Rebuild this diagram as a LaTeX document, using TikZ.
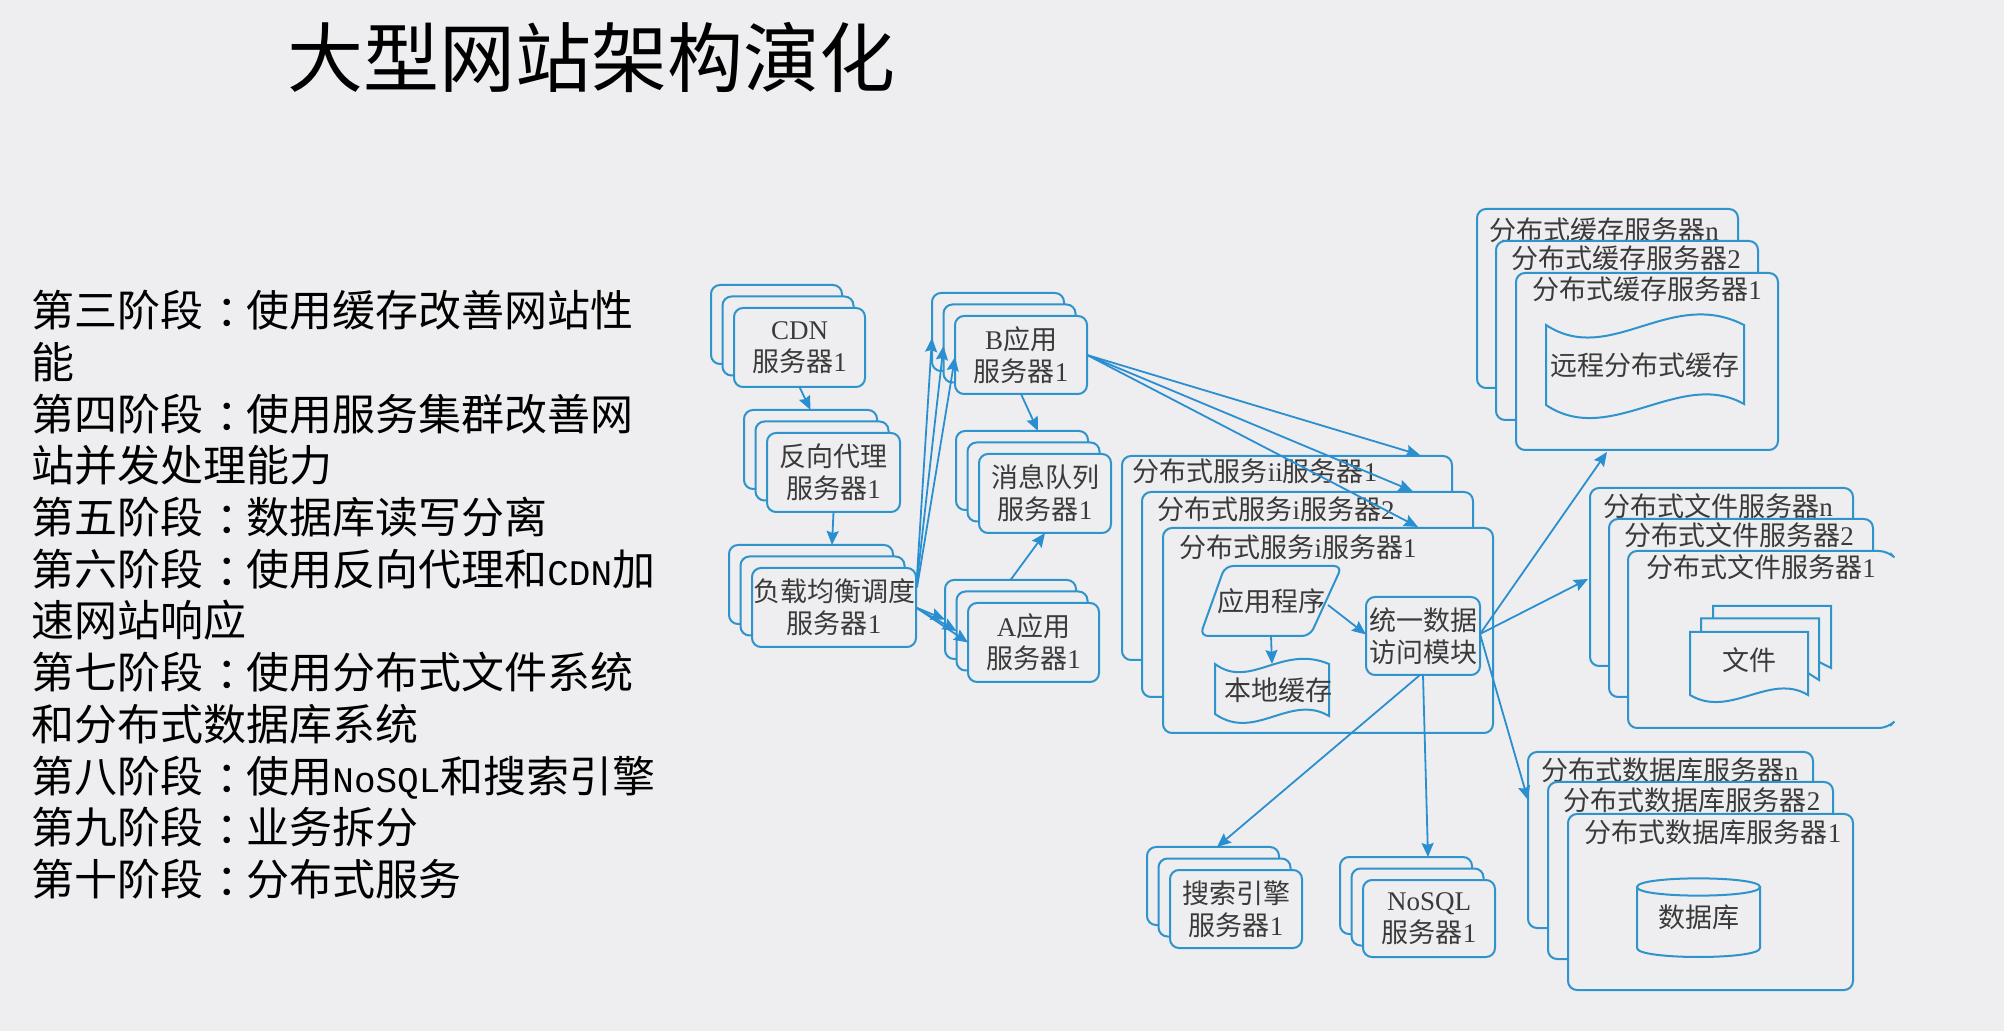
\documentclass[tikz,border=0pt]{standalone}
\usepackage{fontspec}
\setmainfont{Noto Sans CJK SC}
\newfontfamily\serifen{Liberation Serif}
\newfontfamily\monoen{Liberation Mono}
\newcommand{\en}[1]{{\serifen #1}}
\newcommand{\mn}[1]{{\monoen\fontsize{18pt}{18pt}\selectfont #1}}
\newcommand{\cln}{\kern0.3em\char"FF1A\relax\kern-0.3em\relax}
\usetikzlibrary{arrows.meta}
\definecolor{bgc}{HTML}{EEEEF0}
\definecolor{linec}{HTML}{2F93CC}
\definecolor{arrowc}{HTML}{2A8FD0}
\definecolor{txt}{HTML}{3A3A3A}
\tikzset{
  box/.style={draw=linec,line width=1pt,fill=bgc,rounded corners=4.5pt,inner sep=0pt,outer sep=0pt,
    align=center,text=txt,font=\fontsize{13.5pt}{16pt}\selectfont},
  plain/.style={inner sep=0pt,outer sep=0pt,align=center,text=txt,font=\fontsize{13.5pt}{16pt}\selectfont},
  shapeline/.style={draw=linec,line width=1pt,fill=bgc},
  arr/.style={draw=arrowc,line width=0.9pt,-{Stealth[length=7pt,width=6pt,inset=1pt]}},
}
% name, x1, y1, x2, y2, text
\newcommand{\bx}[6]{%
  \pgfmathsetmacro\cxx{(#2+#4)/2}\pgfmathsetmacro\cyy{(#3+#5)/2}%
  \node[box,minimum width={(#4-#2)*0.5pt},minimum height={(#5-#3)*0.5pt}] (#1) at (\cxx,\cyy) {#6};}
\newcommand{\tbx}[6]{%
  \pgfmathsetmacro\cxx{(#2+#4)/2}\pgfmathsetmacro\cyy{(#3+#5)/2}%
  \node[plain,minimum width={(#4-#2)*0.5pt},minimum height={(#5-#3)*0.5pt}] (#1) at (\cxx,\cyy) {#6};}
% stack of three: name, x1, y1, x2, y2, text
\newcommand{\stk}[6]{%
  \pgfmathsetmacro\xa{#2-23}\pgfmathsetmacro\ya{#3-23}\pgfmathsetmacro\xb{#4-23}\pgfmathsetmacro\yb{#5-23}%
  \bx{#1-b}{\xa}{\ya}{\xb}{\yb}{}%
  \pgfmathsetmacro\xa{#2-11.5}\pgfmathsetmacro\ya{#3-11.5}\pgfmathsetmacro\xb{#4-11.5}\pgfmathsetmacro\yb{#5-11.5}%
  \bx{#1-a}{\xa}{\ya}{\xb}{\yb}{}%
  \bx{#1}{#2}{#3}{#4}{#5}{#6}}
\begin{document}
\begin{tikzpicture}[x=0.5pt,y=-0.5pt]
\useasboundingbox (0,0) rectangle (2004,1031);
\fill[bgc] (0,0) rectangle (2004,1031);

\node[inner sep=0pt,font=\fontsize{38pt}{38pt}\selectfont,text=black] (title) at (591,57) {大型网站架构演化};

\node[inner sep=0pt,anchor=north west,align=left,text=black,font=\fontsize{21.5pt}{25.85pt}\selectfont] (stages) at (31,290) {%
第三阶段\cln 使用缓存改善网站性\\
能\\
第四阶段\cln 使用服务集群改善网\\
站并发处理能力\\
第五阶段\cln 数据库读写分离\\
第六阶段\cln 使用反向代理和\mn{CDN}加\\
速网站响应\\
第七阶段\cln 使用分布式文件系统\\
和分布式数据库系统\\
第八阶段\cln 使用\mn{NoSQL}和搜索引擎\\
第九阶段\cln 业务拆分\\
第十阶段\cln 分布式服务};

% left servers
\stk{cdn}{734}{308}{865}{387}{\en{CDN}\\服务器\en{1}}
\stk{rp}{767}{433}{900}{512}{反向代理\\服务器\en{1}}
\stk{lb}{752}{568}{916}{647}{负载均衡调度\\服务器\en{1}}
\stk{bapp}{955}{316}{1087}{394}{\en{B}应用\\服务器\en{1}}
\stk{mq}{979}{454}{1111}{533}{消息队列\\服务器\en{1}}
\stk{aapp}{968}{603}{1099}{682}{\en{A}应用\\服务器\en{1}}
\stk{search}{1170}{870}{1302}{948}{搜索引擎\\服务器\en{1}}
\stk{nosql}{1363}{880}{1495}{957}{\en{NoSQL}\\服务器\en{1}}

% distributed service
\bx{ii}{1122}{456}{1452}{660}{}
\node[plain] (iil) at (1255,471) {分布式服务\en{ii}服务器\en{1}};
\bx{iitwo}{1142}{492}{1473}{697}{}
\node[plain] (iitwol) at (1276,509) {分布式服务\en{i}服务器\en{2}};
\bx{ione}{1163}{528}{1493}{733}{}
\node[plain] (ionel) at (1298,547) {分布式服务\en{i}服务器\en{1}};
\draw[shapeline,rounded corners=4pt] (1225,566) -- (1342,566) -- (1310,636) -- (1200,636) -- cycle;
\tbx{app}{1200}{566}{1342}{636}{应用程序}
\draw[shapeline] (1215,664) .. controls (1250,690) and (1282,644) .. (1329,664) -- (1329,716) .. controls (1290,693) and (1255,742) .. (1215,714) -- cycle;
\tbx{local}{1215}{657}{1329}{726}{}
\node[plain] (locall) at (1278,690) {本地缓存};
\bx{uni}{1366}{597}{1480}{675}{统一数据\\访问模块}

% distributed cache
\bx{cn}{1477}{209}{1738}{388}{}
\node[plain] (cnl) at (1604,230) {分布式缓存服务器\en{n}};
\bx{ctwo}{1496}{241}{1758}{420}{}
\node[plain] (ctwol) at (1626,258) {分布式缓存服务器\en{2}};
\bx{cone}{1516}{273}{1778}{450}{}
\node[plain] (conel) at (1647,289) {分布式缓存服务器\en{1}};
\draw[shapeline] (1546,325) .. controls (1610,367) and (1670,287) .. (1744,325) -- (1744,404) .. controls (1680,368) and (1610,448) .. (1546,405) -- cycle;
\node[plain] (remote) at (1645,365) {远程分布式缓存};

% distributed file
\bx{fn}{1590}{488}{1853}{666}{}
\node[plain] (fnl) at (1718,506) {分布式文件服务器\en{n}};
\bx{ftwo}{1609}{519}{1873}{697}{}
\node[plain] (ftwol) at (1739,535) {分布式文件服务器\en{2}};
\fill[bgc] (1628,551) rectangle (1890,728);
\draw[draw=linec,line width=1pt,rounded corners=4.5pt] (1890,553) -- (1888,551) -- (1628,551) -- (1628,728) -- (1888,728) -- (1890,726);
\node[plain] (fonel) at (1761,567) {分布式文件服务器\en{1}};
\draw[draw=linec,line width=1pt] (1713,618.5) -- (1713,606) -- (1831,606) -- (1831,668) -- (1819,662);
\draw[draw=linec,line width=1pt] (1701,632) -- (1701,618.5) -- (1819,618.5) -- (1819,680) -- (1808,673);
\draw[shapeline] (1690,632) -- (1808,632) -- (1808,695) .. controls (1770,672) and (1730,719) .. (1690,695) -- cycle;
\node[plain] (files) at (1749,660) {文件};

% distributed database
\bx{dn}{1528}{752}{1813}{928}{}
\node[plain] (dnl) at (1670,770) {分布式数据库服务器\en{n}};
\bx{dtwo}{1548}{782}{1833}{959}{}
\node[plain] (dtwol) at (1692,800) {分布式数据库服务器\en{2}};
\bx{done}{1568}{814}{1853}{990}{}
\node[plain] (donel) at (1713,832) {分布式数据库服务器\en{1}};
\draw[shapeline] (1637,887) -- (1637,948) .. controls (1637,960) and (1760,960) .. (1760,948) -- (1760,887) -- cycle;
\draw[shapeline] (1637,887) .. controls (1637,875.5) and (1760,875.5) .. (1760,887) .. controls (1760,898.5) and (1637,898.5) .. (1637,887) -- cycle;
\node[plain] (dbt) at (1699,917) {数据库};

% connectors
\draw[arr] (cdn.south) -- (rp-b.north);
\draw[arr] (rp.south) -- ([shift={(21,0)}]lb-b.north);
\draw[arr] ([shift={(1,-32)}]lb.east) -- ([shift={(0,6)}]bapp-b.west);
\draw[arr] ([shift={(1,-26)}]lb.east) -- ([shift={(0,2.5)}]bapp-a.west);
\draw[arr] ([shift={(1,-20)}]lb.east) -- ([shift={(0,2)}]bapp.west);
\draw[arr] (lb.east) -- (aapp-b.west);
\draw[arr] (lb.east) -- (aapp-a.west);
\draw[arr] (lb.east) -- (aapp.west);
\draw[arr] (bapp.south) -- ([shift={(16,0)}]mq-b.north);
\draw[arr] (aapp-b.north) -- (mq.south);
\draw[arr] (bapp.east) -- ([shift={(133,-1)}]ii.north);
\draw[arr] (bapp.east) -- ([shift={(105,-1)}]iitwo.north);
\draw[arr] (bapp.east) -- ([shift={(90,-1)}]ione.north);
\draw[arr] ([shift={(-14,4)}]app.east) -- ([shift={(0,-1.5)}]uni.west);
\draw[arr] (app.south) -- ([shift={(0,7)}]local.north);
\draw[arr] ([shift={(0,-2)}]uni.east) -- ([shift={(-40,2)}]cone.south);
\draw[arr] ([shift={(0,-2)}]uni.east) -- ([shift={(-2,2)}]fn.west);
\draw[arr] ([shift={(0,-2)}]uni.east) -- ([shift={(0,-40)}]dn.west);
\draw[arr] ([shift={(-3,0)}]uni.south) -- ([shift={(4,0)}]search-b.north);
\draw[arr] (uni.south) -- ([shift={(22,0)}]nosql-b.north);
\end{tikzpicture}
\end{document}
